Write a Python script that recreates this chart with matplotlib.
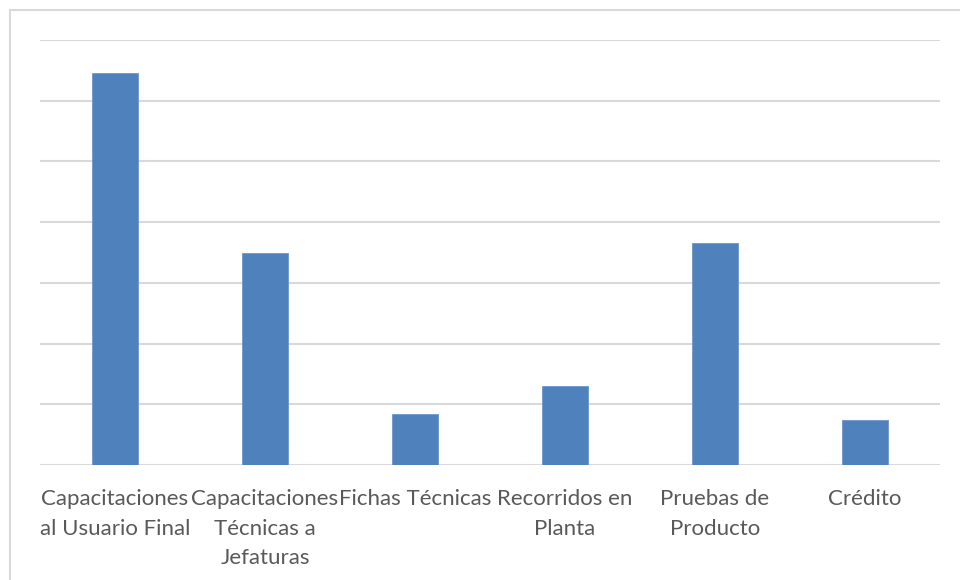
import matplotlib
matplotlib.use("Agg")
import matplotlib.pyplot as plt
from matplotlib.patches import Rectangle

categories = [
    "Capacitaciones\nal Usuario Final",
    "Capacitaciones\nTécnicas a\nJefaturas",
    "Fichas Técnicas",
    "Recorridos en\nPlanta",
    "Pruebas de\nProducto",
    "Crédito",
]
values = [32.3, 17.5, 4.2, 6.5, 18.3, 3.7]
y_ticks = [0, 5, 10, 15, 20, 25, 30, 35]

plt.rcParams["font.family"] = ["Lato", "DejaVu Sans"]

W, H = 960, 580
fig = plt.figure(figsize=(W / 100, H / 100), dpi=100)
ax = fig.add_axes([40 / W, 1 - 465 / H, 900 / W, 425 / H])

x = range(len(categories))
ax.bar(x, values, width=0.31, color="#4f81bd", edgecolor="#6f97cc",
       linewidth=0.6, zorder=3)

ax.set_xlim(-0.5, len(categories) - 0.5)
ax.set_ylim(y_ticks[0], y_ticks[-1])
ax.set_yticks(y_ticks)
ax.yaxis.grid(True, color="#d9d9d9", linewidth=1.5, zorder=0)
ax.tick_params(axis="y", left=False, labelleft=False)
ax.tick_params(axis="x", bottom=False, pad=14, labelsize=16,
               labelcolor="#595959")
ax.set_xticks(list(x))
ax.set_xticklabels(categories, linespacing=1.58)
for side in ("top", "right", "left", "bottom"):
    ax.spines[side].set_visible(False)

# outer chart frame
fig.patches.append(Rectangle((9.5 / W, -0.05), 1.1, 1 - 10 / H + 0.05,
                             transform=fig.transFigure, fill=False,
                             edgecolor="#d9d9d9", linewidth=1.5))

fig.savefig("out.png", dpi=100, facecolor="white")
